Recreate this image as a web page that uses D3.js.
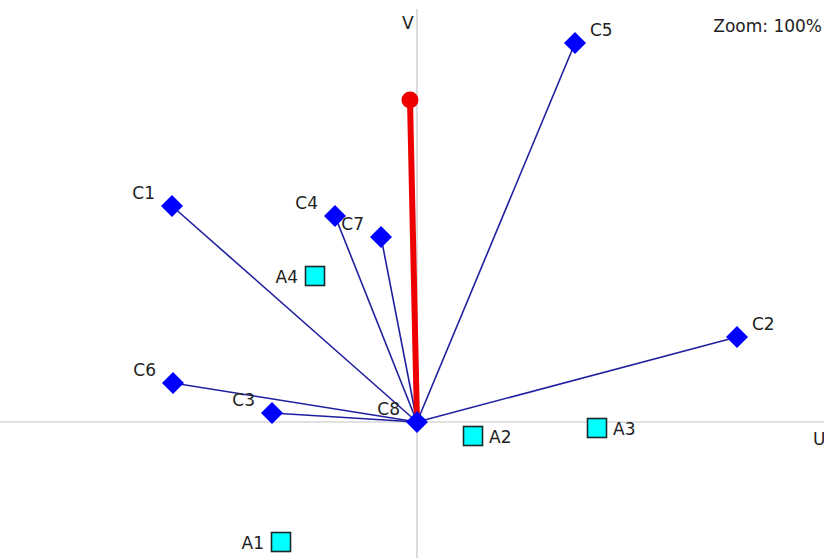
<!DOCTYPE html>
<html>
<head>
<meta charset="utf-8">
<script src="https://cdn.jsdelivr.net/npm/d3@7"></script>
<style>
	body { margin: 0; background: #fff; }
	svg { display: block; }
	text { font-family: "DejaVu Sans", sans-serif; font-size: 17px; fill: #222; }
</style>
</head>
<body>
<div id="plot"></div>
<script>
// Create Constant values
const w = 824;
const h = 558;

// Column points (blue diamonds), drawn as vectors from the origin
const colNames = ['C1', 'C2', 'C3', 'C4', 'C5', 'C6', 'C7', 'C8'];
const colU = [-2.45, 3.20, -1.45, -0.82, 1.58, -2.44, -0.36, 0.00];
const colV = [2.16, 0.85, 0.09, 2.06, 3.79, 0.39, 1.85, 0.00];

// Row points (cyan squares)
const rowNames = ['A1', 'A2', 'A3', 'A4'];
const rowU = [-1.36, 0.56, 1.80, -1.02];
const rowV = [-1.20, -0.14, -0.06, 1.46];

// Supplementary vector (red)
const vecU = -0.07;
const vecV = 3.22;

const cols = colNames.map((n, i) => ({ name: n, u: colU[i], v: colV[i] }));
const rows = rowNames.map((n, i) => ({ name: n, u: rowU[i], v: rowV[i] }));

// Create svg canvas
const svg = d3.select('#plot')
	.append('svg')
	.attr('width', w)
	.attr('height', h);

// Declare Scales
const xScale = d3.scaleLinear()
	.domain([-4.17, 4.07])
	.range([0, w]);

const yScale = d3.scaleLinear()
	.domain([-1.36, 4.22])
	.range([h, 0]);

// Axes
svg.append('line')
	.attr('x1', 0).attr('x2', w)
	.attr('y1', yScale(0)).attr('y2', yScale(0))
	.attr('stroke', '#c4c4c4').attr('stroke-width', 1.2);

svg.append('line')
	.attr('x1', xScale(0)).attr('x2', xScale(0))
	.attr('y1', 9).attr('y2', h)
	.attr('stroke', '#c4c4c4').attr('stroke-width', 1.2);

svg.append('text')
	.attr('x', xScale(0) - 15)
	.attr('y', 29)
	.text('V');

svg.append('text')
	.attr('x', w - 11)
	.attr('y', yScale(0) + 23)
	.text('U');

svg.append('text')
	.attr('x', w - 2)
	.attr('y', 32)
	.attr('text-anchor', 'end')
	.text('Zoom: 100%');

// Vectors from origin to columns
svg.selectAll('line.col')
	.data(cols)
	.enter()
	.append('line')
	.attr('class', 'col')
	.attr('x1', xScale(0))
	.attr('y1', yScale(0))
	.attr('x2', (d) => xScale(d.u))
	.attr('y2', (d) => yScale(d.v))
	.attr('stroke', '#1f1fa0')
	.attr('stroke-width', 1.6);

// Red vector
svg.append('line')
	.attr('x1', xScale(0))
	.attr('y1', yScale(0))
	.attr('x2', xScale(vecU))
	.attr('y2', yScale(vecV))
	.attr('stroke', '#ee0000')
	.attr('stroke-width', 6);

svg.append('circle')
	.attr('cx', xScale(vecU))
	.attr('cy', yScale(vecV))
	.attr('r', 8.5)
	.attr('fill', '#ee0000');

// Column diamonds
svg.selectAll('path.col')
	.data(cols)
	.enter()
	.append('path')
	.attr('class', 'col')
	.attr('d', 'M0,-11L11,0L0,11L-11,0Z')
	.attr('transform', (d) => 'translate(' + xScale(d.u) + ',' + yScale(d.v) + ')')
	.attr('fill', '#0000ff');

svg.selectAll('text.col')
	.data(cols)
	.enter()
	.append('text')
	.attr('class', 'col')
	.attr('x', (d) => d.u > 0 ? xScale(d.u) + 15 : xScale(d.u) - 17)
	.attr('y', (d) => yScale(d.v) - 7)
	.attr('text-anchor', (d) => d.u > 0 ? 'start' : 'end')
	.text((d) => d.name);

// Row squares
svg.selectAll('rect.row')
	.data(rows)
	.enter()
	.append('rect')
	.attr('class', 'row')
	.attr('x', (d) => xScale(d.u) - 9.5)
	.attr('y', (d) => yScale(d.v) - 9.5)
	.attr('width', 19)
	.attr('height', 19)
	.attr('fill', '#00ffff')
	.attr('stroke', '#1a2a2a')
	.attr('stroke-width', 1.6);

svg.selectAll('text.row')
	.data(rows)
	.enter()
	.append('text')
	.attr('class', 'row')
	.attr('x', (d) => d.u > 0 ? xScale(d.u) + 16 : xScale(d.u) - 17)
	.attr('y', (d) => yScale(d.v) + 7)
	.attr('text-anchor', (d) => d.u > 0 ? 'start' : 'end')
	.text((d) => d.name);
</script>
</body>
</html>
